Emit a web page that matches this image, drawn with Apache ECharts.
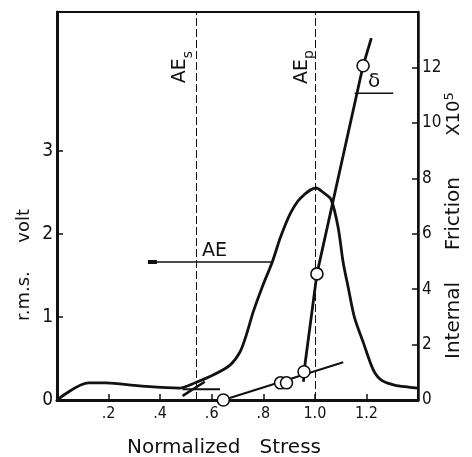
<!DOCTYPE html>
<html>
<head>
<meta charset="utf-8">
<script src="https://cdn.jsdelivr.net/npm/echarts@6/dist/echarts.min.js"></script>
<style>
html, body { margin: 0; padding: 0; background: #fff; }
#chart { width: 472px; height: 457px; }
</style>
</head>
<body>
<div id="chart"></div>
<script>
// AE r.m.s. voltage against normalized stress (left axis)
const aeStress = [0, 0.123, 0.19, 0.32, 0.476, 0.534, 0.605, 0.671, 0.71, 0.734, 0.761, 0.796, 0.836, 0.867, 0.906, 0.945, 1.004, 1.035, 1.063, 1.09, 1.11, 1.129, 1.153, 1.188, 1.227, 1.258, 1.309, 1.364, 1.4];
const aeVolt = [0, 0.205, 0.205, 0.17, 0.144, 0.205, 0.3, 0.42, 0.58, 0.78, 1.06, 1.36, 1.67, 1.96, 2.25, 2.43, 2.55, 2.49, 2.41, 2.08, 1.65, 1.36, 1.0, 0.69, 0.36, 0.24, 0.18, 0.156, 0.144];

// short construction lines near AEs (left axis)
const bgLineX = [0.487, 0.632];
const bgLineY = [0.13, 0.13];
const crossLineX = [0.487, 0.573];
const crossLineY = [0.05, 0.22];

// internal friction x10^5 (right axis)
const ifStress = [0.645, 0.867, 0.89, 0.958, 1.008, 1.187];
const ifValue = [0, 0.62, 0.62, 1.02, 4.55, 12.06];
const ifBaseX = [0.645, 1.11];
const ifBaseY = [0, 1.36];
const ifRiseX = [0.956, 0.958, 1.008, 1.187, 1.219];
const ifRiseY = [0.66, 1.02, 4.55, 12.06, 13.06];

// pointer lines for the labels
const aePointerX = [0.37, 0.836];
const aePointerY = [1.66, 1.66];
const deltaPointerX = [1.154, 1.304];
const deltaPointerY = [11.07, 11.07];

// dashed markers
const aesStress = 0.535;
const aepStress = 1.0;

const xTicks = [0.2, 0.4, 0.6, 0.8, 1.0, 1.2];
const leftTicks = [0, 1, 2, 3];
const rightTicks = [0, 2, 4, 6, 8, 10, 12];

const black = '#111';
const narrow = '"DejaVu Sans Condensed", "DejaVu Sans", sans-serif';
const font = '"DejaVu Sans", sans-serif';

const zip = (a, b) => a.map((v, i) => [v, b[i]]);

const chart = echarts.init(document.getElementById('chart'));

const option = {
  animation: false,
  backgroundColor: '#fff',
  grid: { left: 57, right: 54, top: 12, bottom: 57, show: true, borderColor: black, borderWidth: 2 },
  xAxis: {
    type: 'value',
    min: 0,
    max: 1.4,
    axisLine: { lineStyle: { color: black, width: 3 } },
    axisTick: { inside: true, length: 6, customValues: xTicks, lineStyle: { color: black, width: 1.5 } },
    axisLabel: {
      customValues: xTicks,
      color: black,
      fontSize: 16,
      fontFamily: narrow,
      margin: 6,
      formatter: function (v) {
        return v < 1 ? '.' + Math.round(v * 10) : v.toFixed(1)
      }
    },
    splitLine: { show: false }
  },
  yAxis: [
    {
      type: 'value',
      min: 0,
      max: 14 / 3,
      axisLine: { show: true, lineStyle: { color: black, width: 3 } },
      axisTick: { inside: true, length: 6, customValues: leftTicks, lineStyle: { color: black, width: 1.5 } },
      axisLabel: { customValues: leftTicks, color: black, fontSize: 19, fontFamily: narrow, margin: 4 },
      splitLine: { show: false }
    },
    {
      type: 'value',
      position: 'right',
      min: 0,
      max: 14,
      axisLine: { show: true, lineStyle: { color: black, width: 2.5 } },
      axisTick: { inside: true, length: 6, customValues: rightTicks, lineStyle: { color: black, width: 1.5 } },
      axisLabel: { customValues: rightTicks, color: black, fontSize: 17, fontFamily: narrow, margin: 4 },
      splitLine: { show: false }
    }
  ],
  series: [
    {
      name: 'AE',
      type: 'line',
      data: zip(aeStress, aeVolt),
      smooth: 0.3,
      symbol: 'none',
      lineStyle: { color: black, width: 2.8 },
      markLine: {
        silent: true,
        symbol: 'none',
        label: { show: false },
        lineStyle: { color: black, width: 1, type: [8, 3] },
        data: [{ xAxis: aesStress }, { xAxis: aepStress }]
      },
      z: 3
    },
    {
      type: 'line',
      data: zip(bgLineX, bgLineY),
      symbol: 'none',
      lineStyle: { color: black, width: 2 }
    },
    {
      type: 'line',
      data: zip(crossLineX, crossLineY),
      symbol: 'none',
      lineStyle: { color: black, width: 2.5 }
    },
    {
      type: 'line',
      data: aePointerX.map((x, i) => i === 0
        ? { value: [x, aePointerY[i]], symbol: 'rect', symbolSize: [9, 4] }
        : { value: [x, aePointerY[i]], symbol: 'none' }),
      showSymbol: true,
      itemStyle: { color: black },
      lineStyle: { color: black, width: 1.5 }
    },
    {
      type: 'line',
      yAxisIndex: 1,
      data: zip(ifBaseX, ifBaseY),
      symbol: 'none',
      lineStyle: { color: black, width: 2 }
    },
    {
      type: 'line',
      yAxisIndex: 1,
      data: zip(ifRiseX, ifRiseY),
      symbol: 'none',
      lineStyle: { color: black, width: 2.8 }
    },
    {
      type: 'line',
      yAxisIndex: 1,
      data: zip(deltaPointerX, deltaPointerY),
      symbol: 'none',
      lineStyle: { color: black, width: 1.5 }
    },
    {
      name: 'δ',
      type: 'scatter',
      yAxisIndex: 1,
      data: zip(ifStress, ifValue),
      symbol: 'circle',
      symbolSize: 12,
      itemStyle: { color: '#fff', borderColor: black, borderWidth: 1.6, opacity: 1 },
      z: 5
    }
  ]
};

chart.setOption(option);

// text placed from the axes' own scales
const toPx = (x, y, yi) => chart.convertToPixel({ xAxisIndex: 0, yAxisIndex: yi || 0 }, [x, y]);
const aes = toPx(aesStress, 0);
const aep = toPx(aepStress, 0);
const aeP = toPx(0.6, aePointerY[0]);
const dP = toPx(1.23, deltaPointerY[0], 1);
const txt = { fill: black, fontFamily: font, fontSize: 18 };
const subRich = {
  a: { fontSize: 19, fontFamily: font, fill: black, lineHeight: 22, padding: [0, 0, 5, 0], verticalAlign: 'bottom' },
  s: { fontSize: 14, fontFamily: font, fill: black, lineHeight: 16, verticalAlign: 'bottom' }
};

chart.setOption({
  graphic: [
    {
      type: 'text', x: aes[0] - 11, y: 67, rotation: Math.PI / 2,
      style: { text: '{a|AE}{s|s}', align: 'center', verticalAlign: 'middle', rich: subRich }
    },
    {
      type: 'text', x: aep[0] - 9, y: 67, rotation: Math.PI / 2,
      style: { text: '{a|AE}{s|p}', align: 'center', verticalAlign: 'middle', rich: subRich }
    },
    {
      type: 'text', x: aes[0] + 7, y: aeP[1] - 1,
      style: Object.assign({}, txt, { text: 'AE', fontSize: 19, align: 'left', verticalAlign: 'bottom' })
    },
    {
      type: 'text', x: dP[0], y: dP[1] - 1,
      style: Object.assign({}, txt, { text: 'δ', fontSize: 20, align: 'center', verticalAlign: 'bottom' })
    },
    {
      type: 'text', x: 24, y: 265, rotation: Math.PI / 2,
      style: Object.assign({}, txt, { text: 'r.m.s.     volt', align: 'center', verticalAlign: 'middle' })
    },
    {
      type: 'text', x: 454, y: 268, rotation: Math.PI / 2,
      style: Object.assign({}, txt, { text: 'Internal     Friction', fontSize: 20, align: 'center', verticalAlign: 'middle' })
    },
    {
      type: 'text', x: 454, y: 114, rotation: Math.PI / 2,
      style: Object.assign({}, txt, { text: 'X10{sup|5}', align: 'center', verticalAlign: 'middle', rich: { sup: { fontSize: 13, fontFamily: font, fill: black, padding: [0, 0, 8, 0] } } })
    },
    {
      type: 'text', x: 224, y: 448,
      style: Object.assign({}, txt, { text: 'Normalized   Stress', fontSize: 20, align: 'center', verticalAlign: 'middle' })
    }
  ]
});
</script>
</body>
</html>
